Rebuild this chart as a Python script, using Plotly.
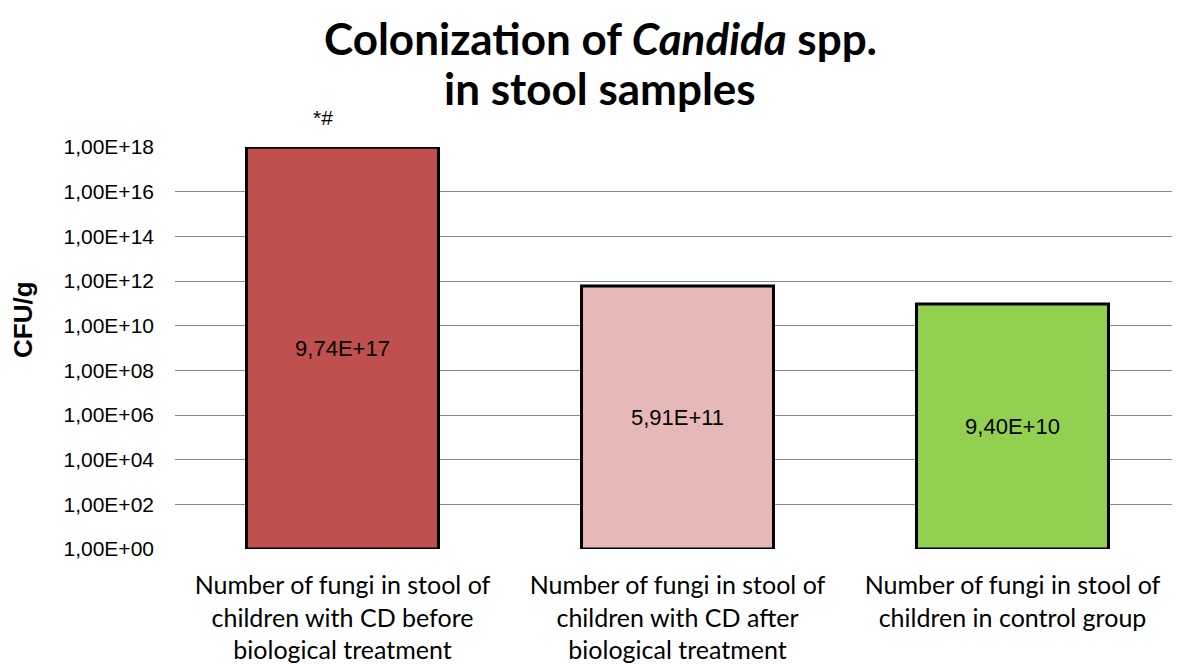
import plotly.graph_objects as go

categories = [
    "Number of fungi in stool of<br>children with CD before<br>biological treatment",
    "Number of fungi in stool of<br>children with CD after<br>biological treatment",
    "Number of fungi in stool of<br>children in control group",
]
values = [9.74e17, 5.91e11, 9.40e10]
bar_colors = ["#C0504D", "#E6B9B8", "#92D050"]
y_exponents = list(range(0, 19, 2))
significance_mark = "*#"
title_lines = ["Colonization of <i>Candida</i> spp.", "in stool samples"]
y_title = "CFU/g"


def excel_sci(v):
    return f"{v:.2E}".replace(".", ",")


tickvals = [10 ** k for k in y_exponents]
ticktext = [excel_sci(v) for v in tickvals]
bar_text = [excel_sci(v) for v in values]

# page body has an 8px margin; the figure is sized so it ends at the window edge
W, H = 1172, 656
L, R, T, B = 167, 0, 139, 115
plot_w = W - L - R
plot_h = H - T - B

fig = go.Figure()
fig.add_trace(go.Bar(
    x=categories,
    y=values,
    base=1,
    width=0.573,
    marker=dict(color=bar_colors, line=dict(color="black", width=3)),
    text=bar_text,
    textposition="inside",
    insidetextanchor="middle",
    textangle=0,
    textfont=dict(family="Liberation Sans", size=22, color="black"),
    hoverinfo="skip",
))

title_annotations = [
    dict(
        text=line,
        xref="paper", yref="paper",
        x=(592 - L) / plot_w, y=1,
        xanchor="center", yanchor="middle",
        yshift=shift,
        showarrow=False,
        font=dict(family="Lato", size=44, color="black", weight="bold"),
    )
    for line, shift in zip(title_lines, [109, 59])
]

fig.update_layout(
    width=W,
    height=H,
    margin=dict(l=L, r=R, t=T, b=B),
    paper_bgcolor="white",
    plot_bgcolor="white",
    showlegend=False,
    xaxis=dict(
        range=[-0.5, 2.5],
        showgrid=False,
        showline=False,
        ticks="",
        tickfont=dict(family="Lato", size=25, color="black"),
        ticklabelstandoff=19,
    ),
    yaxis=dict(
        type="log",
        range=[0, 18],
        tickvals=tickvals,
        ticktext=ticktext,
        showgrid=True,
        gridcolor="#888888",
        gridwidth=1,
        zeroline=False,
        showline=False,
        ticks="",
        tickfont=dict(family="Liberation Sans", size=21, color="black"),
        ticklabelstandoff=20,
    ),
    annotations=title_annotations + [
        dict(
            text=y_title,
            textangle=-90,
            xref="paper", yref="paper",
            x=0, y=(541 - 312) / plot_h,
            xanchor="center", yanchor="middle",
            xshift=-(L - 15),
            showarrow=False,
            font=dict(family="Liberation Sans", size=26, color="black", weight="bold"),
        ),
        dict(
            text=significance_mark,
            xref="x", yref="paper",
            x=categories[0], y=1,
            xanchor="center", yanchor="bottom",
            xshift=-20, yshift=16,
            showarrow=False,
            font=dict(family="Liberation Sans", size=21, color="black"),
        ),
    ],
)

fig.write_html("out.html")
